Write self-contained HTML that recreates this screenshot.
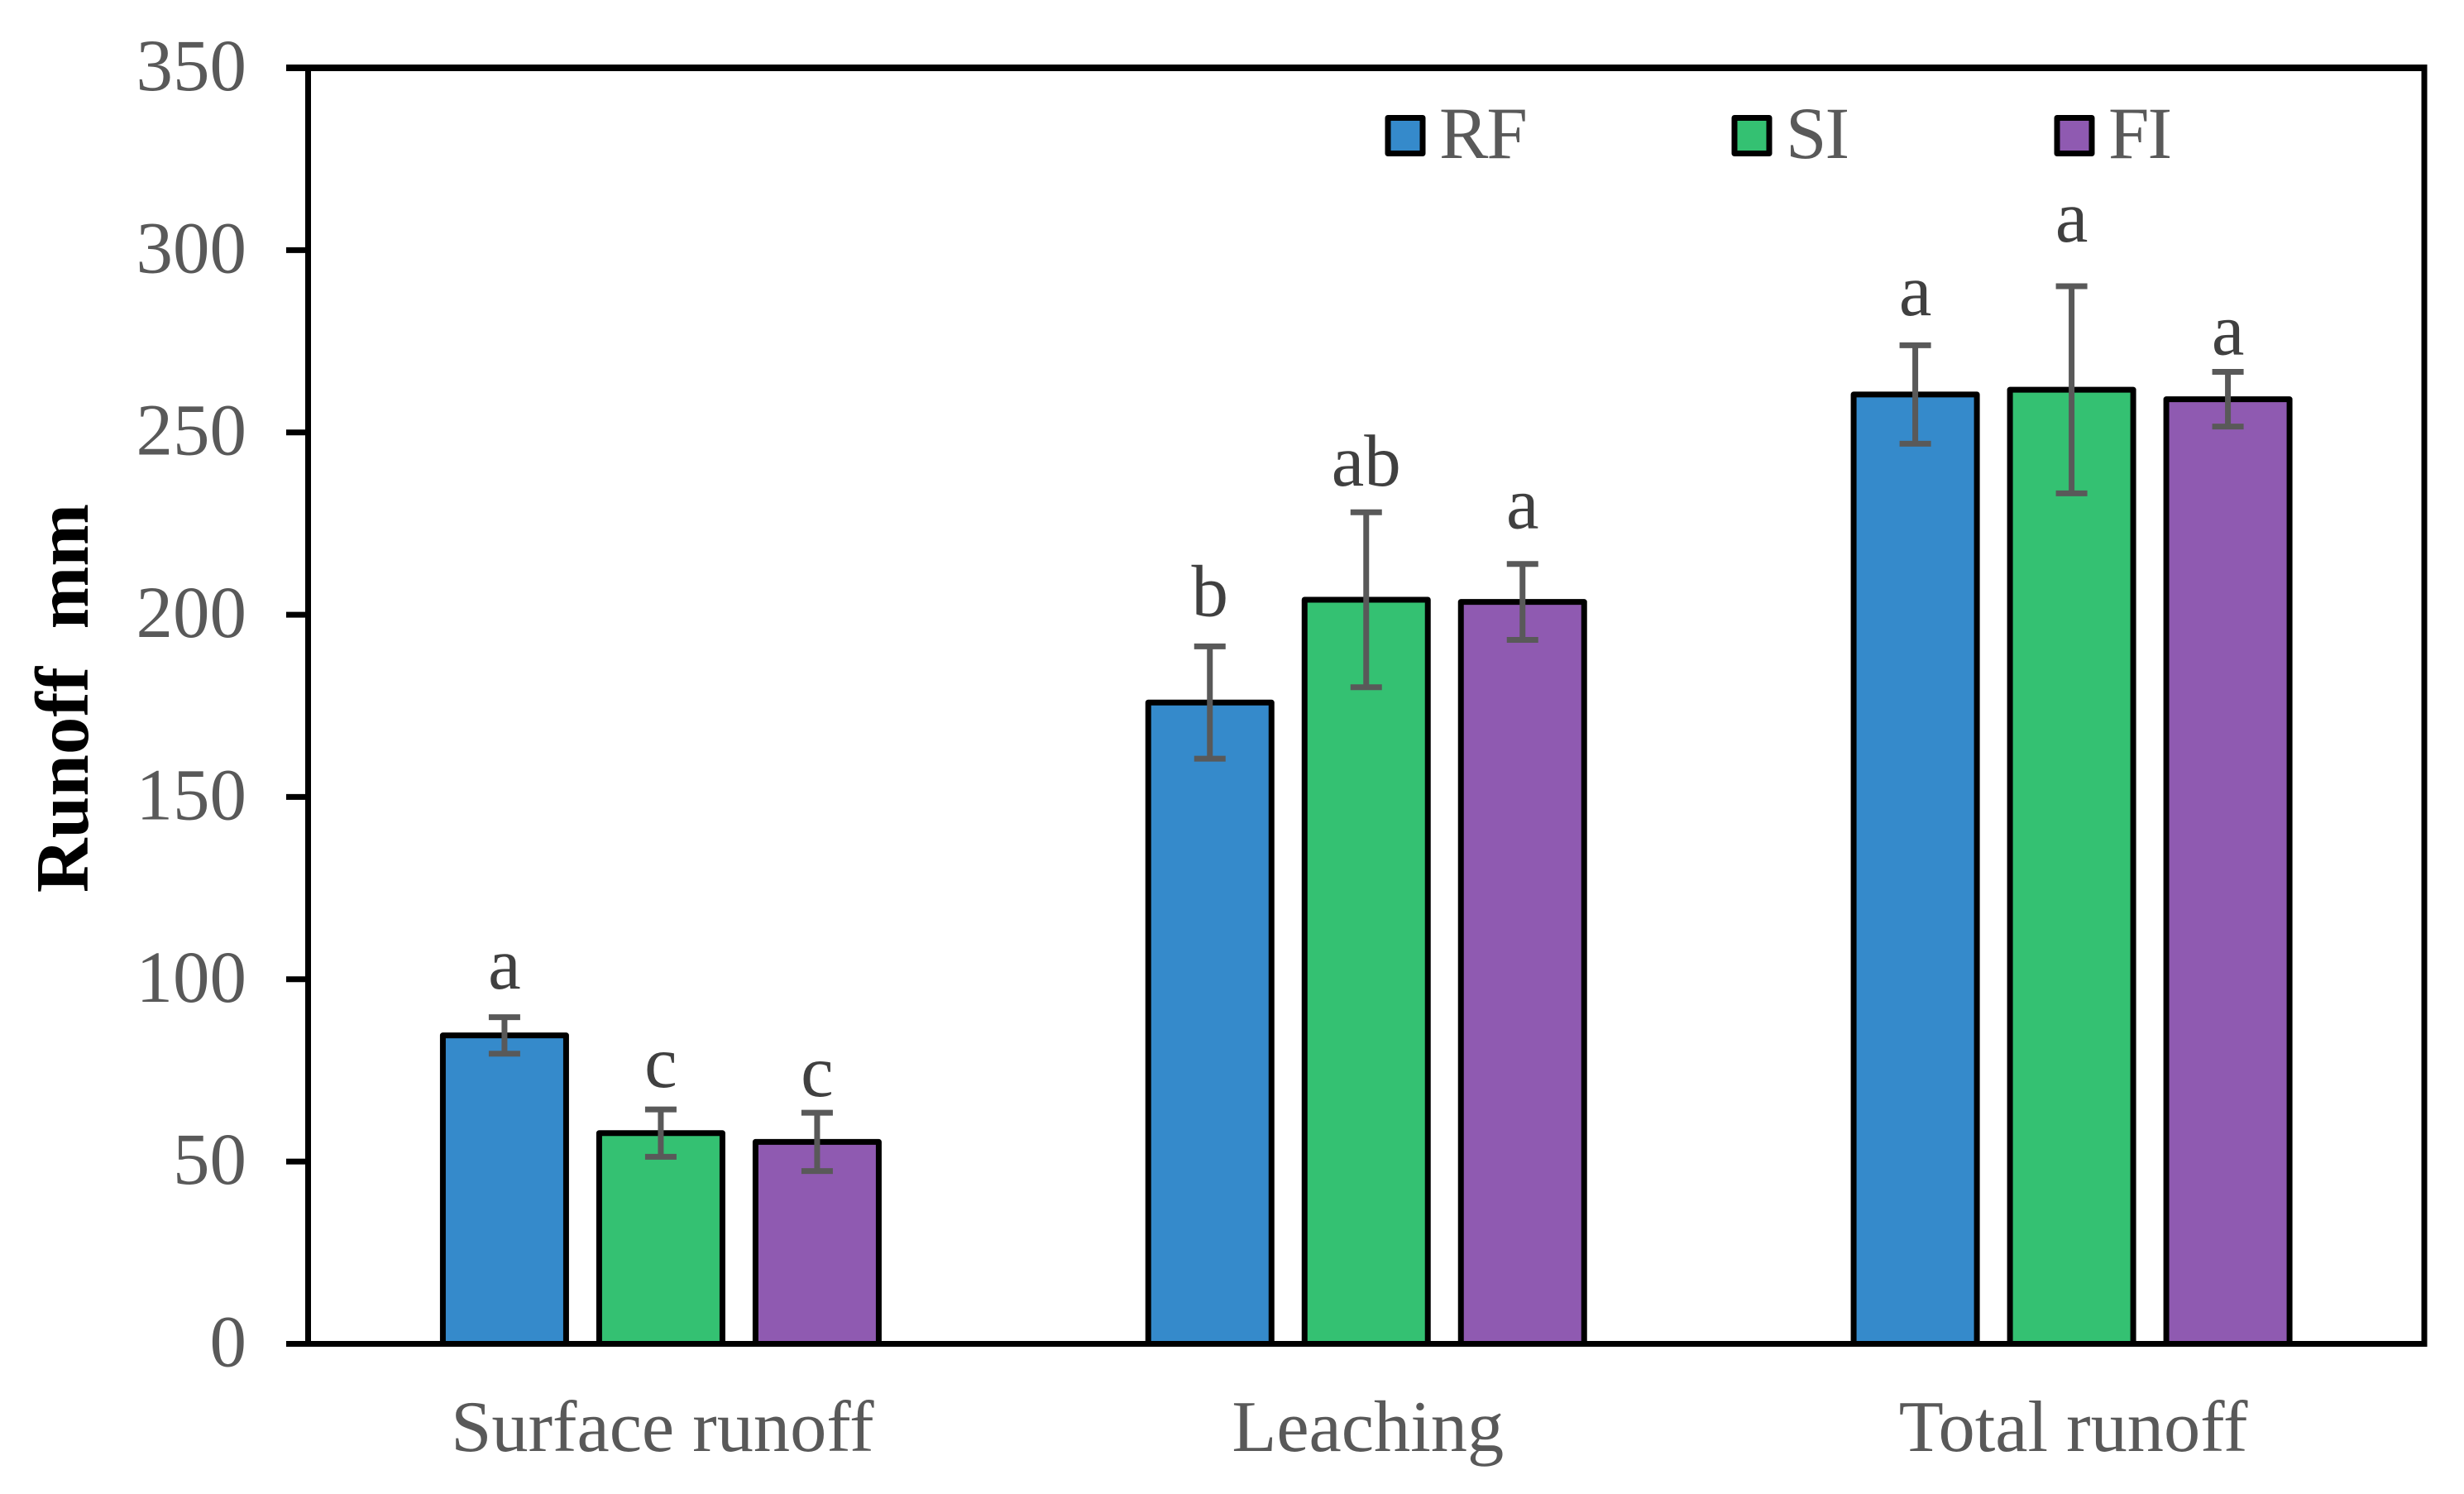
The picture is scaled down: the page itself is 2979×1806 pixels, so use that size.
<!DOCTYPE html>
<html lang="en">
<head>
<meta charset="utf-8">
<title>Runoff chart</title>
<style>
  html, body { margin: 0; padding: 0; background: #ffffff; }
  svg { display: block; }
  text { font-family: "Liberation Serif", "Times New Roman", serif; }
</style>
</head>
<body>
<svg id="chart" xmlns="http://www.w3.org/2000/svg" width="2979" height="1806" viewBox="0 0 2979 1806"></svg>
<script>
const categories = ['Surface runoff', 'Leaching', 'Total runoff'];
const seriesNames = ['RF', 'SI', 'FI'];
const seriesColors = ['#358ACB', '#34C172', '#8F5AB1'];
const rfValues = [84.6, 175.9, 260.4];
const siValues = [57.8, 204.1, 261.7];
const fiValues = [55.4, 203.5, 259.1];
const rfErrors = [5.0, 15.4, 13.5];
const siErrors = [6.5, 24.0, 28.4];
const fiErrors = [8.0, 10.4, 7.5];
const rfLetters = ['a', 'b', 'a'];
const siLetters = ['c', 'ab', 'a'];
const fiLetters = ['c', 'a', 'a'];
const rfLetterGaps = [7.8, 8.4, 8.2];
const siLetterGaps = [6.1, 7.3, 12.3];
const fiLetterGaps = [4.6, 9.8, 4.8];
const yTicks = [0, 50, 100, 150, 200, 250, 300, 350];

const svg = document.getElementById('chart');
const NS = 'http://www.w3.org/2000/svg';
const plotLeft = 372.5, plotRight = 2931, plotTop = 82, plotBottom = 1624.5;
const yMax = 350;
const FONT = 89;

function yScale(v) { return plotBottom - (v / yMax) * (plotBottom - plotTop); }
function bandCenter(i) { return plotLeft + (i + 0.5) * (plotRight - plotLeft) / categories.length; }
function barCenter(i, s) { return bandCenter(i) + (s - 1) * 189; }

function make(tag, attrs, text) {
  const el = document.createElementNS(NS, tag);
  for (const k in attrs) el.setAttribute(k, attrs[k]);
  if (text !== undefined) el.textContent = text;
  svg.appendChild(el);
  return el;
}

const allValues = [rfValues, siValues, fiValues];
const allErrors = [rfErrors, siErrors, fiErrors];
const allLetters = [rfLetters, siLetters, fiLetters];
const allGaps = [rfLetterGaps, siLetterGaps, fiLetterGaps];

// bars
categories.forEach(function (cat, i) {
  seriesNames.forEach(function (name, s) {
    const top = yScale(allValues[s][i]);
    const cx = barCenter(i, s);
    const bar = make('rect', { x: cx - 74.5, y: top, width: 149, height: plotBottom - top, fill: seriesColors[s], stroke: '#000', 'stroke-width': 7, 'stroke-linejoin': 'round' });
    
    
  });
});

// axes frame
const frame = make('path', { d: 'M' + plotLeft + ' ' + plotTop + 'V' + plotBottom + 'M' + plotRight + ' ' + plotTop + 'V' + plotBottom, stroke: '#000', 'stroke-width': 7, fill: 'none', 'stroke-linecap': 'square' });


const topLine = make('line', { x1: 346, x2: plotRight + 3.5, y1: plotTop, y2: plotTop, stroke: '#000', 'stroke-width': 8 });


const xAxis = make('line', { x1: 346, x2: plotRight + 3.5, y1: plotBottom, y2: plotBottom, stroke: '#000', 'stroke-width': 7 });



// y ticks
yTicks.forEach(function (t) {
  const y = yScale(t);
  const tick = make('line', { x1: 346, x2: plotLeft, y1: y, y2: y, stroke: '#000', 'stroke-width': 7 });
  
  
  const label = make('text', { x: 298, y: y + 27, 'text-anchor': 'end', 'font-size': FONT, fill: '#595959' }, String(t));
  
  
});

// error bars and significance letters
categories.forEach(function (cat, i) {
  seriesNames.forEach(function (name, s) {
    const v = allValues[s][i], e = allErrors[s][i];
    const cx = barCenter(i, s);
    const yHi = yScale(v + e), yLo = yScale(v - e);
    const err = make('path', { d: 'M' + cx + ' ' + yHi + 'V' + yLo + 'M' + (cx - 19) + ' ' + yHi + 'H' + (cx + 19) + 'M' + (cx - 19) + ' ' + yLo + 'H' + (cx + 19), stroke: '#595959', 'stroke-width': 7, fill: 'none' });
    
    
    const letter = make('text', { x: cx, y: yScale(v + e + allGaps[s][i]), 'text-anchor': 'middle', 'font-size': FONT, fill: '#404040' }, allLetters[s][i]);
    
    
  });
});

// category labels
categories.forEach(function (cat, i) {
  const label = make('text', { x: bandCenter(i) + 2, y: 1754, 'text-anchor': 'middle', 'font-size': 88.4, fill: '#595959' }, cat);
  
  
});

// legend
seriesNames.forEach(function (name, s) {
  const lx = 1678 + s * 404 + (s === 2 ? 1 : 0) + (s === 1 ? 15 : 0);
  const swatch = make('rect', { x: lx, y: 142.5, width: 42, height: 43, fill: seriesColors[s], stroke: '#000', 'stroke-width': 7, 'stroke-linejoin': 'round' });
  
  
  const label = make('text', { x: lx + 62, y: 191, 'font-size': FONT, 'letter-spacing': -2, fill: '#595959' }, name);
  
  
});

// y-axis title
const yTitle = make('text', { transform: 'translate(106 844) rotate(-90)', 'text-anchor': 'middle', 'font-size': 91, 'font-weight': 'bold', fill: '#000', 'xml:space': 'preserve', style: 'white-space:pre' }, 'Runoff  mm');


</script>
</body>
</html>
